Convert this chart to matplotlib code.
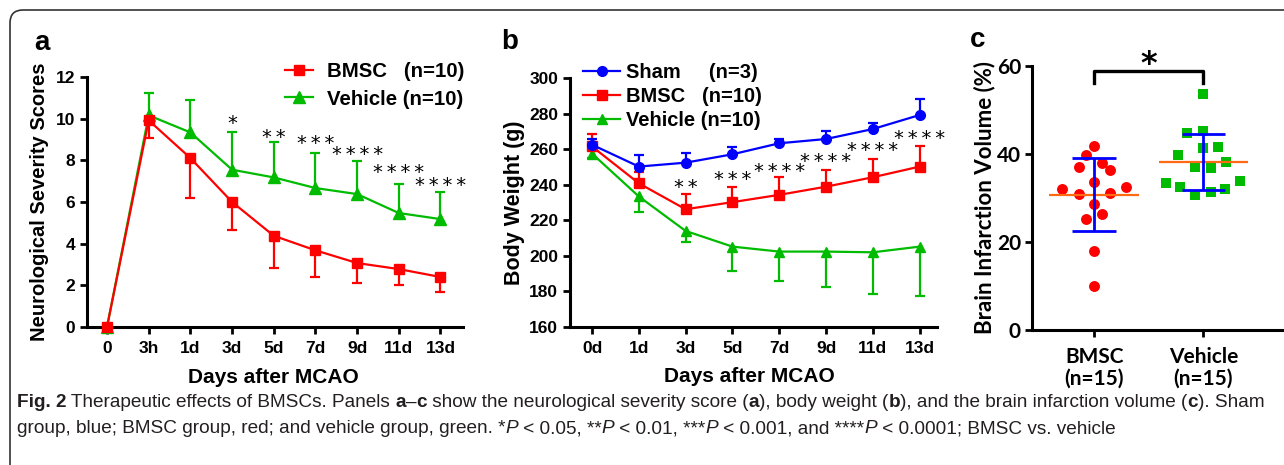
import numpy as np
import matplotlib.pyplot as plt
from matplotlib.patches import FancyBboxPatch
from matplotlib.transforms import IdentityTransform

# ---- panel a: neurological severity scores ----
a_days = ['0', '3h', '1d', '3d', '5d', '7d', '9d', '11d', '13d']
a_bmsc = [0, 9.92, 8.11, 6.0, 4.38, 3.68, 3.07, 2.78, 2.4]
a_bmsc_sd = [0, 0.85, 1.92, 1.33, 1.55, 1.3, 0.97, 0.75, 0.7]
a_veh = [0, 10.16, 9.34, 7.55, 7.18, 6.67, 6.38, 5.47, 5.18]
a_veh_sd = [0, 1.07, 1.57, 1.81, 1.68, 1.67, 1.59, 1.38, 1.32]
a_star_idx = [3, 4, 5, 6, 7, 8]
a_star_n = [1, 2, 3, 4, 4, 4]
a_star_y = [9.75, 9.1, 8.8, 8.3, 7.4, 6.8]

# ---- panel b: body weight ----
b_days = ['0d', '1d', '3d', '5d', '7d', '9d', '11d', '13d']
b_sham = [262.5, 250.2, 252.4, 257.1, 263.3, 265.7, 271.3, 279.2]
b_sham_sd = [3, 6.7, 5.3, 4, 2.3, 4.5, 3.2, 8.8]
b_bmsc = [261.5, 240.8, 226.2, 230.2, 234.3, 238.9, 244.2, 250.2]
b_bmsc_sd = [7.0, 6.6, 8.6, 8.4, 9.9, 9.4, 10.1, 11.6]
b_veh = [257.5, 233.4, 214.0, 205.2, 202.4, 202.4, 202.0, 205.2]
b_veh_sd = [2.5, 8.5, 6.0, 13.5, 16.6, 20.0, 23.5, 28.0]
b_star_idx = [2, 3, 4, 5, 6, 7]
b_star_n = [2, 3, 4, 4, 4, 4]
b_star_y = [238.6, 242.7, 247.4, 253.1, 259.2, 266.2]

# ---- panel c: infarction volume ----
c_groups = ['BMSC\n(n=15)', 'Vehicle\n(n=15)']
c_bmsc = [41.8, 39.8, 37.1, 37.8, 36.4, 33.6, 32.0, 32.4, 30.9, 31.0, 28.7, 26.4, 25.1, 18.0, 10.1]
c_bmsc_dx = [0, -0.07, -0.14, 0.073, 0.147, 0, -0.29, 0.294, -0.14, 0.147, 0, 0.073, -0.07, 0, 0]
c_veh = [53.6, 44.7, 45.2, 39.8, 41.4, 41.5, 37.1, 36.8, 38.2, 33.4, 32.5, 33.8, 30.7, 31.4, 32.0]
c_veh_dx = [0, -0.153, 0, -0.229, 0, 0.138, -0.076, 0.07, 0.211, -0.346, -0.211, 0.339, -0.076, 0.07, 0.199]

RED = '#ff0000'
GREEN = '#00bb00'
BLUE = '#0000ff'
ORANGE = '#ff6a13'

plt.rcParams['font.family'] = ['Liberation Sans', 'DejaVu Sans']
plt.rcParams['font.weight'] = 'bold'
plt.rcParams['axes.labelweight'] = 'bold'

W, H = 1284, 465
fig = plt.figure(figsize=(W / 100, H / 100), dpi=100)


def px_axes(l, t, r, b):
    return fig.add_axes([l / W, 1 - b / H, (r - l) / W, (b - t) / H])


def style_axes(ax, size=12.5):
    for s in ['top', 'right']:
        ax.spines[s].set_visible(False)
    for s in ['left', 'bottom']:
        ax.spines[s].set_linewidth(2.2)
    ax.tick_params(width=2, length=5, labelsize=size, direction='out')


def errbars(ax, x, y, sd, color, up, z):
    lo = np.zeros(len(sd)) if up else np.array(sd)
    hi = np.array(sd) if up else np.zeros(len(sd))
    _, caps, _ = ax.errorbar(x, y, yerr=[lo, hi], fmt='none', ecolor=color,
                             elinewidth=1.6, capsize=3.8, capthick=1.6, zorder=z)
    caps[0 if up else 1].set_visible(False)


def stars(ax, idx, n, ys):
    for i, k, yy in zip(idx, n, ys):
        ax.text(i, yy, '\u2009'.join(['*'] * k), ha='center', va='center',
                fontsize=14, fontweight='normal', family='DejaVu Sans',
                clip_on=False)


# panel a
axa = px_axes(87, 77, 463, 327)
xa = np.arange(len(a_days))
errbars(axa, xa, a_veh, a_veh_sd, GREEN, True, 2)
axa.plot(xa, a_veh, color=GREEN, lw=1.6, marker='^', ms=8, zorder=3,
         label='Vehicle (n=10)', clip_on=False)
errbars(axa, xa, a_bmsc, a_bmsc_sd, RED, False, 4)
axa.plot(xa, a_bmsc, color=RED, lw=1.6, marker='s', ms=7.5, zorder=5,
         label='BMSC   (n=10)', clip_on=False)
stars(axa, a_star_idx, a_star_n, a_star_y)
axa.set_xlim(-0.48, 8.54)
axa.set_ylim(0, 12)
axa.set_yticks(range(0, 13, 2))
axa.set_xticks(xa, a_days)
style_axes(axa)
axa.tick_params(axis='x', pad=5)
axa.set_ylabel('Neurological Severity Scores', fontsize=14.5)
axa.set_xlabel('Days after MCAO', fontsize=15)
axa.yaxis.set_label_coords(-0.125, 0.5)
axa.yaxis.label.set_va('center')
axa.xaxis.set_label_coords(0.495, -0.2)
axa.xaxis.label.set_va('center')
h, l = axa.get_legend_handles_labels()
axa.legend(h[::-1], l[::-1], loc='upper left', frameon=False,
           bbox_to_anchor=(285 / W, 1 - 62 / H), bbox_transform=fig.transFigure,
           prop={'weight': 'bold', 'size': 14.7}, handlelength=1.35,
           handletextpad=0.72, labelspacing=0.42, borderpad=0, borderaxespad=0)

# panel b
axb = px_axes(570, 78, 937, 327)
xb = np.arange(len(b_days))
errbars(axb, xb, b_veh, b_veh_sd, GREEN, False, 2)
axb.plot(xb, b_veh, color=GREEN, lw=1.6, marker='^', ms=7.5, zorder=3,
         label='Vehicle (n=10)', clip_on=False)
errbars(axb, xb, b_bmsc, b_bmsc_sd, RED, True, 4)
axb.plot(xb, b_bmsc, color=RED, lw=1.6, marker='s', ms=7, zorder=5,
         label='BMSC   (n=10)', clip_on=False)
errbars(axb, xb, b_sham, b_sham_sd, BLUE, True, 6)
axb.plot(xb, b_sham, color=BLUE, lw=1.6, marker='o', ms=7, zorder=7,
         label='Sham     (n=3)', clip_on=False)
stars(axb, b_star_idx, b_star_n, b_star_y)
axb.set_xlim(-0.47, 7.37)
axb.set_ylim(160, 300)
axb.set_yticks(range(160, 301, 20))
axb.set_xticks(xb, b_days)
style_axes(axb)
axb.tick_params(axis='x', pad=5)
axb.set_ylabel('Body Weight (g)', fontsize=15.5)
axb.set_xlabel('Days after MCAO', fontsize=15)
axb.yaxis.set_label_coords(-0.15, 0.5)
axb.yaxis.label.set_va('center')
axb.xaxis.set_label_coords(0.49, -0.2)
axb.xaxis.label.set_va('center')
h, l = axb.get_legend_handles_labels()
axb.legend(h[::-1], l[::-1], loc='upper left', frameon=False,
           bbox_to_anchor=(583 / W, 1 - 63 / H), bbox_transform=fig.transFigure,
           prop={'weight': 'bold', 'size': 14.5}, handlelength=1.85,
           handletextpad=0.3, labelspacing=0.25, borderpad=0, borderaxespad=0)

# panel c
axc = px_axes(1032, 65.7, 1282, 330)
cfont = ['Lato', 'DejaVu Sans']
for pos, vals, dx, mk, col, ms in [(0, c_bmsc, c_bmsc_dx, 'o', RED, 62),
                                   (1, c_veh, c_veh_dx, 's', GREEN, 56)]:
    vals = np.array(vals)
    axc.scatter(pos + np.array(dx), vals, marker=mk, s=ms, color=col,
                linewidths=0, zorder=3)
    m, sd = vals.mean(), vals.std(ddof=1)
    axc.hlines(m, pos - 0.41, pos + 0.41, color=ORANGE, lw=1.6, zorder=4)
    axc.vlines(pos, m - sd, m + sd, color=BLUE, lw=2, zorder=5)
    axc.hlines([m - sd, m + sd], pos - 0.2, pos + 0.2, color=BLUE, lw=2, zorder=5)
axc.plot([0, 0, 1, 1], [56.0, 58.7, 58.7, 56.0], color='black', lw=2.4,
         clip_on=False)
axc.text(0.5, 60.2, '*', ha='center', va='center', fontsize=23,
         family='DejaVu Sans', fontweight='bold', clip_on=False)
axc.set_xlim(-0.569, 1.72)
axc.set_ylim(0, 60)
axc.set_yticks([0, 20, 40, 60])
axc.set_xticks([0, 1], c_groups)
style_axes(axc, size=15)
for t in axc.get_xticklabels() + axc.get_yticklabels():
    t.set_family(cfont)
    t.set_linespacing(1.1)
axc.tick_params(axis='x', pad=7)
axc.tick_params(axis='y', pad=3)
axc.set_ylabel('Brain Infarction Volume (%)', fontsize=16, family=cfont)
axc.yaxis.set_label_coords(-0.19, 0.5)
axc.yaxis.label.set_va('center')

# panel letters
for x, y, s in [(42, 43, 'a'), (510, 42, 'b'), (978, 40, 'c')]:
    fig.text(x / W, 1 - y / H, s, ha='center', va='center', fontsize=20,
             fontweight='bold')

# figure frame
frame = FancyBboxPatch((10, -40), 1400, 495, boxstyle='round,pad=0,rounding_size=13',
                       transform=IdentityTransform(), fill=False,
                       edgecolor='#333333', lw=1.2)
fig.add_artist(frame)

# caption with mixed styles
cap1 = [('Fig. 2', 'bold'), (' Therapeutic effects of BMSCs. Panels ', 'normal'),
        ('a', 'bold'), ('\u2013', 'normal'), ('c', 'bold'),
        (' show the neurological severity score (', 'normal'), ('a', 'bold'),
        ('), body weight (', 'normal'), ('b', 'bold'),
        ('), and the brain infarction volume (', 'normal'), ('c', 'bold'),
        ('). Sham', 'normal')]
cap2 = [('group, blue; BMSC group, red; and vehicle group, green. *', 'normal'),
        ('P', 'italic'), (' < 0.05, **', 'normal'), ('P', 'italic'),
        (' < 0.01, ***', 'normal'), ('P', 'italic'), (' < 0.001, and ****', 'normal'),
        ('P', 'italic'), (' < 0.0001; BMSC vs. vehicle', 'normal')]
capfont = ['Liberation Sans Narrow', 'Liberation Sans']
renderer = fig.canvas.get_renderer()


def kw(style, size):
    return dict(family=capfont, fontsize=size, color='#231f20',
                fontweight='bold' if style == 'bold' else 'normal',
                fontstyle='italic' if style == 'italic' else 'normal')


def seg_width(s, style, size):
    t = fig.text(0, 0, '|' + s + '|', **kw(style, size))
    w = t.get_window_extent(renderer).width
    t.set_text('||')
    w -= t.get_window_extent(renderer).width
    t.remove()
    return w


def draw_runs(runs, x0, y, size):
    x = x0
    for s, st in runs:
        fig.text(x / W, 1 - y / H, s, ha='left', va='baseline', **kw(st, size))
        x += seg_width(s, st, size)


size = 11
total = sum(seg_width(s, st, size) for s, st in cap1)
size = size * 1252 / total
draw_runs(cap1, 17, 407, size)
draw_runs(cap2, 17, 433, size)

fig.savefig('out.png', dpi=100)
